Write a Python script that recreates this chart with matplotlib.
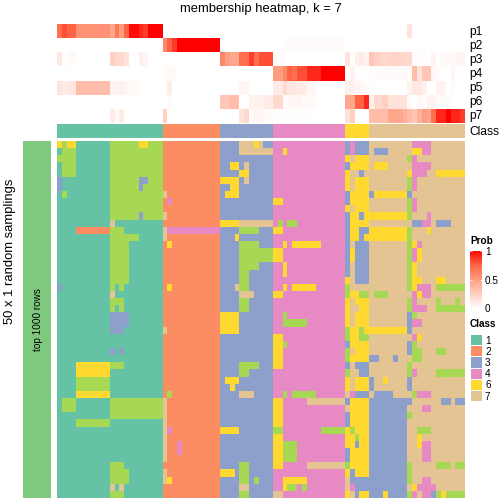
import matplotlib
matplotlib.use('Agg')
import matplotlib.pyplot as plt
import numpy as np
from matplotlib.colors import LinearSegmentedColormap, ListedColormap

plt.rcParams['font.family'] = ['Liberation Sans', 'DejaVu Sans']

W = H = 504

# colours
class_colors = ['#66C2A5', '#FC8D62', '#8DA0CB', '#E78AC3', '#A6D854', '#FFD92F', '#E5C494']
group_color = '#7FC97F'
prob_cmap = LinearSegmentedColormap.from_list(
    'prob', ['#FFFFFF', '#FFD0C2', '#FF9E81', '#FF6545', '#FF0000'])

# top annotation: membership probability of each sample
p1 = [.7, .8, .75, .75, .55, .55, .55, .55, .55, .55, .55, .45, .65, .5, .75, .97, .97, .9, .85, 1, 1, 1] + [0] * 51 + [.15] + [0] * 11
p2 = [0] * 22 + [.6, .75, .85, 1, 1, 1, 1, 1, 1, 1, 1, 1] + [0] * 13 + [.02] * 13 + [0] * 25
p3 = [.12, 0, .03, .03, 0, 0, 0, 0, 0, 0, 0, .25, .2, .2, .15, 0, 0, .08, .05, 0, 0, 0] + [0] * 12 + \
     [.6, .5, .45, .45, .7, .7, .85, .7, .8, .8, .8, 0, .02] + [0] * 13 + \
     [.15, 0, .08, .1, .06, .3, .25, .22, .2, .22, .22, .22, .2, .2, .02, .01, .01, 0, .06, 0, .03, .03, .03, .05, .05]
p4 = [0] * 22 + [.03, .03, .03] + [0] * 20 + \
     [.5, .5, .6, .75, .7, .8, .8, .9, .9, .9, 1, 1, 1, 1, 1] + \
     [0, .06, 0, 0, 0, .02, .02, .02, .02, .02, .02, .02, .02, .02, .35, .15, .3, .3, .04, .02, 0, 0, .05, 0, 0]
p5 = [.15, .1, .12, .12, .35, .35, .35, .35, .35, .35, .35, .06, .06, .06, .05, .03, .03, 0, 0, 0, 0, 0] + \
     [0, .1] + [0] * 14 + [.05, .05] + [0] * 5 + \
     [.1, .1, .2, .12, .12, .1, .1, .04, .04, 0, 0, 0, 0, 0, 0] + \
     [.08, .08, .05, .05, .03, 0, 0, 0, 0, 0, 0, 0, 0, .06, .12, .12, .08, 0, 0, .06, .06, 0, .03, 0, 0]
p6 = [0] * 22 + [0, .03] + [0] * 10 + [.3, .3, .35, .35, 0, 0, .07, .07, .07, .1, .1] + \
     [.2, .2, .02, .04, .04, .05, .03, .03, .03] + [0] * 6 + \
     [.45, .45, .75, .75, .9, .08, .2, .2, .25, .15, .15, .15, .15, .03, 0, .03, .02, .06, .06, .02, .02, .02, 0, 0, 0]
p7 = [0] * 11 + [.1, .03, .1] + [0] * 8 + [.25] + [0] * 15 + [.15, .2, .02, .05, .05, .02, .02] + \
     [.01, .01, .01, .01, .01, .01, .01, .01] + [0] * 7 + \
     [.15, .25, 0, 0, 0, .35, .35, .35, .35, .45, .45, .45, .4, .35, .3, .4, .5, .45, .7, .9, .9, 1, .9, .9, .85]
prob_names = ['p1', 'p2', 'p3', 'p4', 'p5', 'p6', 'p7']

# sample order and class of each column
class_ids = [1] * 22 + [2] * 12 + [3] * 11 + [4] * 15 + [6] * 5 + [7] * 20

# predicted class per sampling (rows), split by final class block (columns)
block_1 = [
    '6 5 66 1111111 555555 66 555', '1555 1111111 55555555555', '5555 1111111 55555555555',
    '1555 1111111 55555555555', '1555 1111111 55555555555', '3111 1111111 555555 33 555',
    '3111 1111111 555555 3 5555', '1511 1111111 55555555555', '1111 1111111 55555555555',
    '1111 1111111 55555555555', '1111 1111111 555555 3 5555', '1111 1111111 7 1111111111',
    '1111 2222222 555 11111111', '1111 1111111 555555 11111', '1111 1111111 5555 1111111',
    '1111 1111111 5555 1111111', '1111 1111111 5555 1111111', '1111 1111111 5555 1111111',
    '1111 1111111 5555 1111111', '1111 1111111 5555 1111111', '3111 1111111 5 1 5 11111111',
    '1111 1111111 7 1111111111', '1111 1111111 555 11111111', '1111 1111111 5 1 5 11111111',
    '1111 1111111 3333 1111111', '1111 1111111 3333 1111111', '1111 1111111 333 11111111',
    '1111 1111111 11111111111', '1111 1111111 11111111111', '1111 1111111 3 1 3 11111111',
    '1111 1111111 11111111111', '1111 6666666 555 11111111', '1111 6666666 11111111111',
    '1111 5555555 11111111111', '1111 5555555 11111111111', '1111 6666666 11111111111',
    '1555 1111111 55555555555', '1555 1111111 55555555555', '1111 1111111 55555555555',
    '1111 5555555 11111111111', '1111 1111111 11111111111', '1111 1111111 11111111111',
    '1111 1111111 11111111111', '1111 1111111 11111111111', '1111 1111111 11111111111',
    '1111 1111111 555 11111111', '1111 1111111 5555 1111111', '1111 1111111 5555 1111111',
    '1111 1111111 7 1 7 11111111', '1111 1111111 555 11111111',
]
block_2 = [
    '222222222222', '222222222222', '222222222222', '222222222222', '222222222222',
    '222222222222', '222222222222', '722222222222', '242222222222', '222222222222',
    '722222222222', '222222222222', '744444444444', '722222222222', '262222222222',
    '222222222222', '222222222222', '222222222222', '222222222222', '222222222222',
    '262222222222', '222222222222', '222222222222', '222222222222', '222222222222',
    '222222222222', '722222222222', '222222222222', '222222222222', '222222222222',
    '222222222222', '222222222222', '222222222222', '222222222222', '222222222222',
    '252222222222', '722222222222', '722222222222', '722222222222', '722222222222',
    '742222222222', '722222222222', '722422222222', '722422222222', '722222222222',
    '222222222222', '722222222222', '762222222222', '222222222222', '222222222222',
]
block_3 = [
    '3333 777 6 7 33', '3333 7777777', '33333333333', '33 66 3 7 33333', '3333 66 33333',
    '6666 3 7 33333', '33 66 3333333', '3 666 3333333', '33333333333', '33333333333',
    '33333333333', '6666 7777777', '3333 5555 333', '333 6 3333333', '3333 5555 333',
    '3333 5555555', '3333 5555555', '3333 5555 333', '3333 55 33333', '3333 55 33333',
    '333 7 55 33333', '3333 777 3333', '3333 55 33333', '3333 55 33333', '6666 3333333',
    '6666 3333333', '6666 3333333', '33333333333', '33333333333', '33333333333',
    '33333333333', '3333 5555 333', '3333 55 33333', '3 666 3333333', '33 6 33333333',
    '3333 777 3333', '33333333333', '33333333333', '33333333333', '33333333333',
    '6666 3333333', '33333333333', '33333333333', '33333333333', '33333333333',
    '3333 55 33333', '666 3 55 33333', '3333 55 3 5 333', '3333 77 33333', '3333 55 33333',
]
block_4 = [
    '444444444444444', '44 6 444444444444', '444444444444444', '444444444444444', '444444444444444',
    '444444444444444', '444444444444444', '444444444444444', '66 4444444444444', '444444444444444',
    '444444444444444', '4 5 4 55 4444444444', '66 4444444444444', '444444444444444', '44 6 4 666666 44444',
    '66 4444444444444', '66 4444444444444', '44 6 444444444444', '44 6 444444444444', '444444444444444',
    '44 6 4 66666 444444', '66 4444444444444', '444444444444444', '444444444444444', '44 5 444444444444',
    '44 55555 44444444', '444444444444444', '66 4444444444444', '66 5 444444444444', '66 4444444444444',
    '66 4444444444444', '66 4444444444444', '444444444444444', '444444444444444', '444444444444444',
    '44 5 4 55555 444444', '66 44444 77777777', '66 4444444444444', '66 4444444444444', '66 4444444444444',
    '55 44444444 55555', '66 4444444444444', '66 555 4444444444', '66 555 4444444444', '66 555 4444444444',
    '66 44444 77777777', '444444444444444', '44 66666 44444444', '44 6 55 4 5 44444444', '77 4444444444444',
]
block_6 = [
    '34333', '34333', '67666', '36666', '67737',
    '67666', '67666', '36666', '36666', '67666',
    '36636', '36666', '36633', '36636', '37333',
    '36333', '36333', '37333', '37333', '67333',
    '57777', '56655', '67666', '67766', '67666',
    '67666', '56656', '56655', '36666', '57666',
    '56666', '37333', '57733', '67666', '67666',
    '74333', '36666', '76666', '36666', '36666',
    '65666', '66566', '66366', '36666', '36666',
    '56666', '63666', '73333', '74333', '67366',
]
block_7 = [
    '777777777 4444 7777777', '7 333 77777 66 44 7777777', '77777777 5 4 7777777777',
    '7 666 77777 4444 7777777', '77777777 6 444 77 666666', '77777777 5 4 7777777777',
    '77777777 5 4 7777777777', '3 6666666 3 77777777777', '77777777 5 4 7777777777',
    '77777777 5 4 7777777777', '66666666 5 777 4 7777777', '777777777 33 44 7 333 777',
    '66666666 5 777 6 7777777', '66666666 5 77777777777', '77777777 5 6 4 777777777',
    '77777777 5 4 6 777777777', '77777777 5 4 6 777777777', '77777777 5 6 7777777777',
    '77777777 5 6 7777777777', '77777777 5 66 777 66 7777', '77777777 5 6 444 7 555555',
    '7 555 77777 4 6 44 7777777', '77777777 5 4 7777 5 777 5 7', '77777777 5 444 77 555555',
    '77777777 3 5 7777777777', '77777777 3 44 777777777', '66666666 3 77777777777',
    '777777777 4 6 777777777', '77777777 3 5 7777777777', '77777777 3 55 777 55 7777',
    '33 777 3 777 55 777777777', '77777777 5 77777777777', '77777777 5 4 7777 555555',
    '3 77 6 7777 3 77777777777', '3 7777777 3 77777777777', '7 3333 7777 5 444 7777777',
    '333333333 777777 33 7 33', '33333333 777 44 7777777', '33333333 5 77777777777',
    '33333333 777777777777', '33333333 77 555 7777777', '33333333 77 6 777777777',
    '33333333 77 6 44 7777777', '33333333 777 44 7777777', '33333333 777 44 7777777',
    '33333333 5 77777 555 7 55', '33333333 5 77777777777', '33333333 5 77 44 7777777',
    '33333333 7 6 4444 777777', '333 6 3333 5 4 7 44 3 5 6 5555',
]

legend_ids = ['1', '2', '3', '4', '6', '7']
legend_ticks = [0, 0.5, 1]
title = 'membership heatmap, k = 7'
ylabel = '50 x 1 random samplings'
group_label = 'top 1000 rows'


def px_axes(x0, y0, x1, y1):
    ax = fig.add_axes([x0 / W, 1 - y1 / H, (x1 - x0) / W, (y1 - y0) / H])
    ax.axis('off')
    return ax


def px_text(x, y, s, **kw):
    kw.setdefault('va', 'center')
    kw.setdefault('color', 'black')
    fig.text(x / W, 1 - y / H, s, **kw)


rows = []
for parts in zip(block_1, block_2, block_3, block_4, block_6, block_7):
    rows.append(''.join(parts).replace(' ', ''))
labels = np.array([[int(c) for c in r] for r in rows])
class_cmap = ListedColormap(class_colors)

fig = plt.figure(figsize=(W / 72, H / 72), dpi=72)

# membership heatmap
ax = px_axes(57, 24, 465, 123)
ax.imshow(np.array([p1, p2, p3, p4, p5, p6, p7]), aspect='auto', cmap=prob_cmap,
          vmin=0, vmax=1, interpolation='nearest')
for i, name in enumerate(prob_names):
    px_text(469, 31.5 + i * 14.14, name, fontsize=12)

# class bar
ax = px_axes(57, 124, 465, 138)
ax.imshow(np.array([class_ids]), aspect='auto', cmap=class_cmap, vmin=1, vmax=7,
          interpolation='nearest')
px_text(469, 132, 'Class', fontsize=12)

# main body
ax = px_axes(57, 141, 465, 498)
ax.imshow(labels, aspect='auto', cmap=class_cmap, vmin=1, vmax=7, interpolation='nearest')

# group bar on the left
ax = px_axes(23, 141, 51, 498)
ax.set_facecolor(group_color)
ax.axis('on')
ax.set_xticks([])
ax.set_yticks([])
for s in ax.spines.values():
    s.set_visible(False)

px_text(38, 320, group_label, fontsize=10, rotation=90, ha='center')
px_text(10, 251, ylabel, fontsize=13, rotation=90, ha='center')
px_text(261, 9, title, fontsize=13, ha='center')

# legends
px_text(470, 241, 'Prob', fontsize=10, fontweight='bold')
ax = px_axes(470, 251, 482, 309)
grad = np.linspace(1, 0, 100).reshape(-1, 1)
ax.imshow(grad, aspect='auto', cmap=prob_cmap, vmin=0, vmax=1, extent=[0, 1, 0, 1])
for t in legend_ticks:
    ax.plot([0, 0.17], [t, t], color='white', lw=0.6, clip_on=False)
    ax.plot([0.83, 1], [t, t], color='white', lw=0.6, clip_on=False)
    px_text(485, 309 - t * 57, '%g' % t, fontsize=10)
ax.set_xlim(0, 1)
ax.set_ylim(0, 1)

px_text(470, 324, 'Class', fontsize=10, fontweight='bold')
for i, cid in enumerate(legend_ids):
    ax = px_axes(470.5, 335 + i * 11.2, 481, 345.2 + i * 11.2)
    ax.imshow([[int(cid)]], aspect='auto', cmap=class_cmap, vmin=1, vmax=7)
    px_text(485, 340.5 + i * 11.2, cid, fontsize=10)

fig.savefig('out.png', dpi=72)
